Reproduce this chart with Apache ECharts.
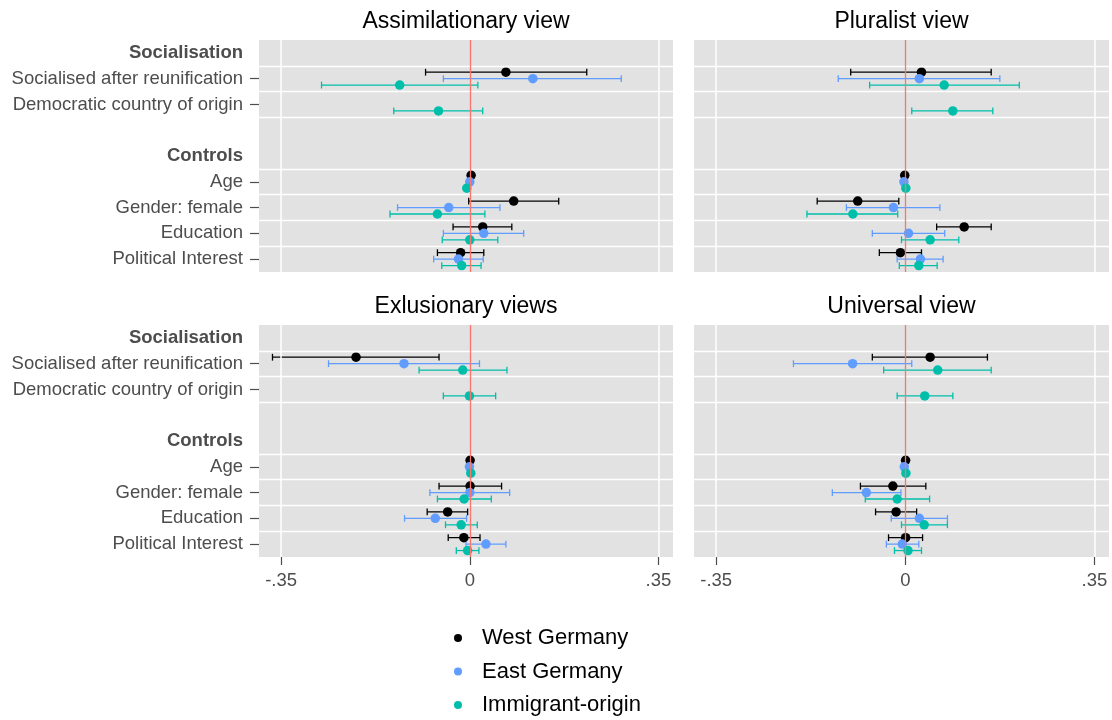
<!DOCTYPE html>
<html>
<head>
<meta charset="utf-8">
<script src="https://cdn.jsdelivr.net/npm/echarts@6/dist/echarts.min.js"></script>
<style>html,body{margin:0;padding:0;background:#fff}#c{width:1112px;height:720px}</style>
</head>
<body>
<div id="c"></div>
<script>
// ---- data ----
const rows = ['Socialisation', 'Socialised after reunification', 'Democratic country of origin', '', 'Controls', 'Age', 'Gender: female', 'Education', 'Political Interest'];
const headerRows = ['Socialisation', 'Controls'];
const predictors = ['Socialised after reunification', 'Democratic country of origin', 'Age', 'Gender: female', 'Education', 'Political Interest'];
const groups = ['West Germany', 'East Germany', 'Immigrant-origin'];
const panels = ['Assimilationary view', 'Pluralist view', 'Exlusionary views', 'Universal view'];
const xTicks = [-0.35, 0, 0.35];

// [estimate, lower, upper] per predictor (null = not estimated)
const assimWest = [[0.067, -0.082, 0.217], null, [0.0025, 0.0005, 0.0045], [0.0815, -0.002, 0.165], [0.024, -0.031, 0.078], [-0.017, -0.060, 0.026]];
const assimEast = [[0.117, -0.049, 0.281], null, [0.0, -0.002, 0.002], [-0.039, -0.134, 0.056], [0.026, -0.049, 0.100], [-0.021, -0.067, 0.025]];
const assimImm  = [[-0.130, -0.275, 0.015], [-0.058, -0.141, 0.024], [-0.0056, -0.0076, -0.0036], [-0.060, -0.148, 0.028], [0.0, -0.051, 0.052], [-0.015, -0.052, 0.021]];

const plurWest = [[0.030, -0.101, 0.159], null, [-0.001, -0.003, 0.001], [-0.088, -0.163, -0.012], [0.109, 0.058, 0.159], [-0.009, -0.048, 0.030]];
const plurEast = [[0.026, -0.124, 0.175], null, [-0.0025, -0.0045, -0.0005], [-0.022, -0.109, 0.064], [0.006, -0.061, 0.073], [0.028, -0.015, 0.070]];
const plurImm  = [[0.072, -0.066, 0.211], [0.088, 0.012, 0.162], [0.001, -0.001, 0.003], [-0.097, -0.182, -0.014], [0.046, -0.007, 0.099], [0.025, -0.011, 0.059]];

const exclWest = [[-0.211, -0.366, -0.057], null, [0.0006, -0.0014, 0.0026], [0.0006, -0.057, 0.059], [-0.041, -0.079, -0.004], [-0.011, -0.040, 0.019]];
const exclEast = [[-0.122, -0.262, 0.018], null, [-0.0006, -0.0026, 0.0014], [0.0, -0.074, 0.074], [-0.064, -0.121, -0.006], [0.030, -0.007, 0.067]];
const exclImm  = [[-0.013, -0.094, 0.069], [-0.0006, -0.049, 0.048], [0.0019, -0.0001, 0.0039], [-0.0105, -0.060, 0.040], [-0.016, -0.045, 0.014], [-0.004, -0.025, 0.017]];

const univWest = [[0.046, -0.061, 0.152], null, [0.0006, -0.0014, 0.0026], [-0.023, -0.083, 0.038], [-0.017, -0.055, 0.021], [0.0006, -0.031, 0.032]];
const univEast = [[-0.0975, -0.207, 0.012], null, [-0.0019, -0.0039, 0.0001], [-0.072, -0.135, -0.008], [0.026, -0.026, 0.078], [-0.0056, -0.035, 0.025]];
const univImm  = [[0.060, -0.040, 0.159], [0.036, -0.015, 0.088], [0.0012, -0.0008, 0.0032], [-0.015, -0.074, 0.045], [0.035, -0.007, 0.078], [0.005, -0.020, 0.030]];

const panelData = [
  [assimWest, assimEast, assimImm],
  [plurWest, plurEast, plurImm],
  [exclWest, exclEast, exclImm],
  [univWest, univEast, univImm]
];

// ---- styling ----
const FONT = '"Liberation Sans", Arial, Helvetica, sans-serif';
const colors = ['#000000', '#619CFF', '#00BFAA'];
const dodge = [-0.25, 0, 0.25];
const gridBoxes = [
  {left: 259, top: 40, width: 414, height: 232},
  {left: 694, top: 40, width: 415, height: 232},
  {left: 259, top: 325, width: 414, height: 232},
  {left: 694, top: 325, width: 415, height: 232}
];
const hLines = [1.5, 2.5, 3.5, 5.5, 6.5, 7.5, 8.5];

const grids = [], xAxes = [], yAxes = [], series = [], titles = [];
gridBoxes.forEach((g, p) => {
  grids.push(Object.assign({show: true, backgroundColor: '#E2E2E2', borderWidth: 0}, g));
  const bottom = p >= 2, leftCol = p % 2 === 0;
  titles.push({
    text: panels[p], left: g.left + g.width / 2, top: g.top - 30, textAlign: 'center', padding: 0,
    textStyle: {fontFamily: FONT, fontSize: 23, fontWeight: 'normal', color: '#000'}
  });
  xAxes.push({
    type: 'value', gridIndex: p, min: -0.391, max: 0.377,
    splitLine: {show: false}, axisLine: {show: false, onZero: false},
    axisTick: {show: bottom, customValues: xTicks, length: 8, lineStyle: {color: '#4D4D4D', width: 1.2}},
    axisLabel: {show: bottom, customValues: xTicks, margin: 14, fontFamily: FONT, fontSize: 18.5, color: '#4D4D4D',
      formatter: v => String(v).replace('0.', '.')}
  });
  yAxes.push({
    type: 'value', gridIndex: p, min: 0.5, max: 9.5, inverse: true,
    splitLine: {show: false}, axisLine: {show: false, onZero: false},
    axisTick: {show: leftCol, customValues: predictors.map(n => rows.indexOf(n) + 1), length: 9, lineStyle: {color: '#4D4D4D', width: 1.2}},
    axisLabel: {show: leftCol, customValues: rows.map((r, i) => i + 1), margin: 16, fontFamily: FONT, fontSize: 18.5, color: '#4D4D4D',
      formatter: v => { const r = rows[Math.round(v) - 1] || ''; return headerRows.includes(r) ? '{b|' + r + '}' : r; },
      rich: {b: {fontFamily: FONT, fontSize: 18.5, fontWeight: 'bold', color: '#4D4D4D'}}}
  });
  // grid lines and zero reference line
  series.push({
    type: 'line', xAxisIndex: p, yAxisIndex: p, data: [], z: 1, silent: true,
    markLine: {
      silent: true, symbol: ['none', 'none'], label: {show: false}, animation: false,
      data: hLines.map(v => ({yAxis: v, lineStyle: {color: '#FFFFFF', width: 1.3, type: 'solid'}}))
        .concat(xTicks.filter(v => v !== 0).map(v => ({xAxis: v, lineStyle: {color: '#FFFFFF', width: 1.5, type: 'solid'}})))
        .concat([{xAxis: 0, lineStyle: {color: '#F8766D', width: 1.3, type: 'solid'}}])
    }
  });
  panelData[p].forEach((arr, gi) => {
    const ci = [], pts = [];
    arr.forEach((d, k) => {
      if (!d) return;
      const y = rows.indexOf(predictors[k]) + 1 + dodge[gi];
      ci.push([d[1], d[2], y]);
      pts.push([d[0], y]);
    });
    const col = colors[gi];
    series.push({
      type: 'custom', name: groups[gi] + ' CI', xAxisIndex: p, yAxisIndex: p, z: 3, silent: true,
      encode: {x: [0, 1], y: 2}, data: ci,
      renderItem: (params, api) => {
        const a = api.coord([api.value(0), api.value(2)]);
        const b = api.coord([api.value(1), api.value(2)]);
        const h = 3.4, st = {stroke: col, lineWidth: 1.3};
        return {type: 'group', children: [
          {type: 'line', shape: {x1: a[0], y1: a[1], x2: b[0], y2: b[1]}, style: st},
          {type: 'line', shape: {x1: a[0], y1: a[1] - h, x2: a[0], y2: a[1] + h}, style: st},
          {type: 'line', shape: {x1: b[0], y1: b[1] - h, x2: b[0], y2: b[1] + h}, style: st}
        ]};
      }
    });
    series.push({
      type: 'scatter', name: groups[gi], xAxisIndex: p, yAxisIndex: p, z: 4,
      symbol: 'circle', symbolSize: 9.5, itemStyle: {color: col, opacity: 1}, data: pts
    });
  });
});

const chart = echarts.init(document.getElementById('c'), null, {renderer: 'canvas'});
chart.setOption({
  animation: false,
  backgroundColor: '#FFFFFF',
  title: titles,
  grid: grids, xAxis: xAxes, yAxis: yAxes,
  legend: {
    data: groups, orient: 'vertical', left: 454, top: 626, padding: 0, icon: 'circle',
    itemWidth: 8, itemHeight: 8, itemGap: 9.5,
    textStyle: {fontFamily: FONT, fontSize: 22, color: '#000', lineHeight: 24, padding: [0, 0, 0, 15]}
  },
  series: series
});
</script>
</body>
</html>
